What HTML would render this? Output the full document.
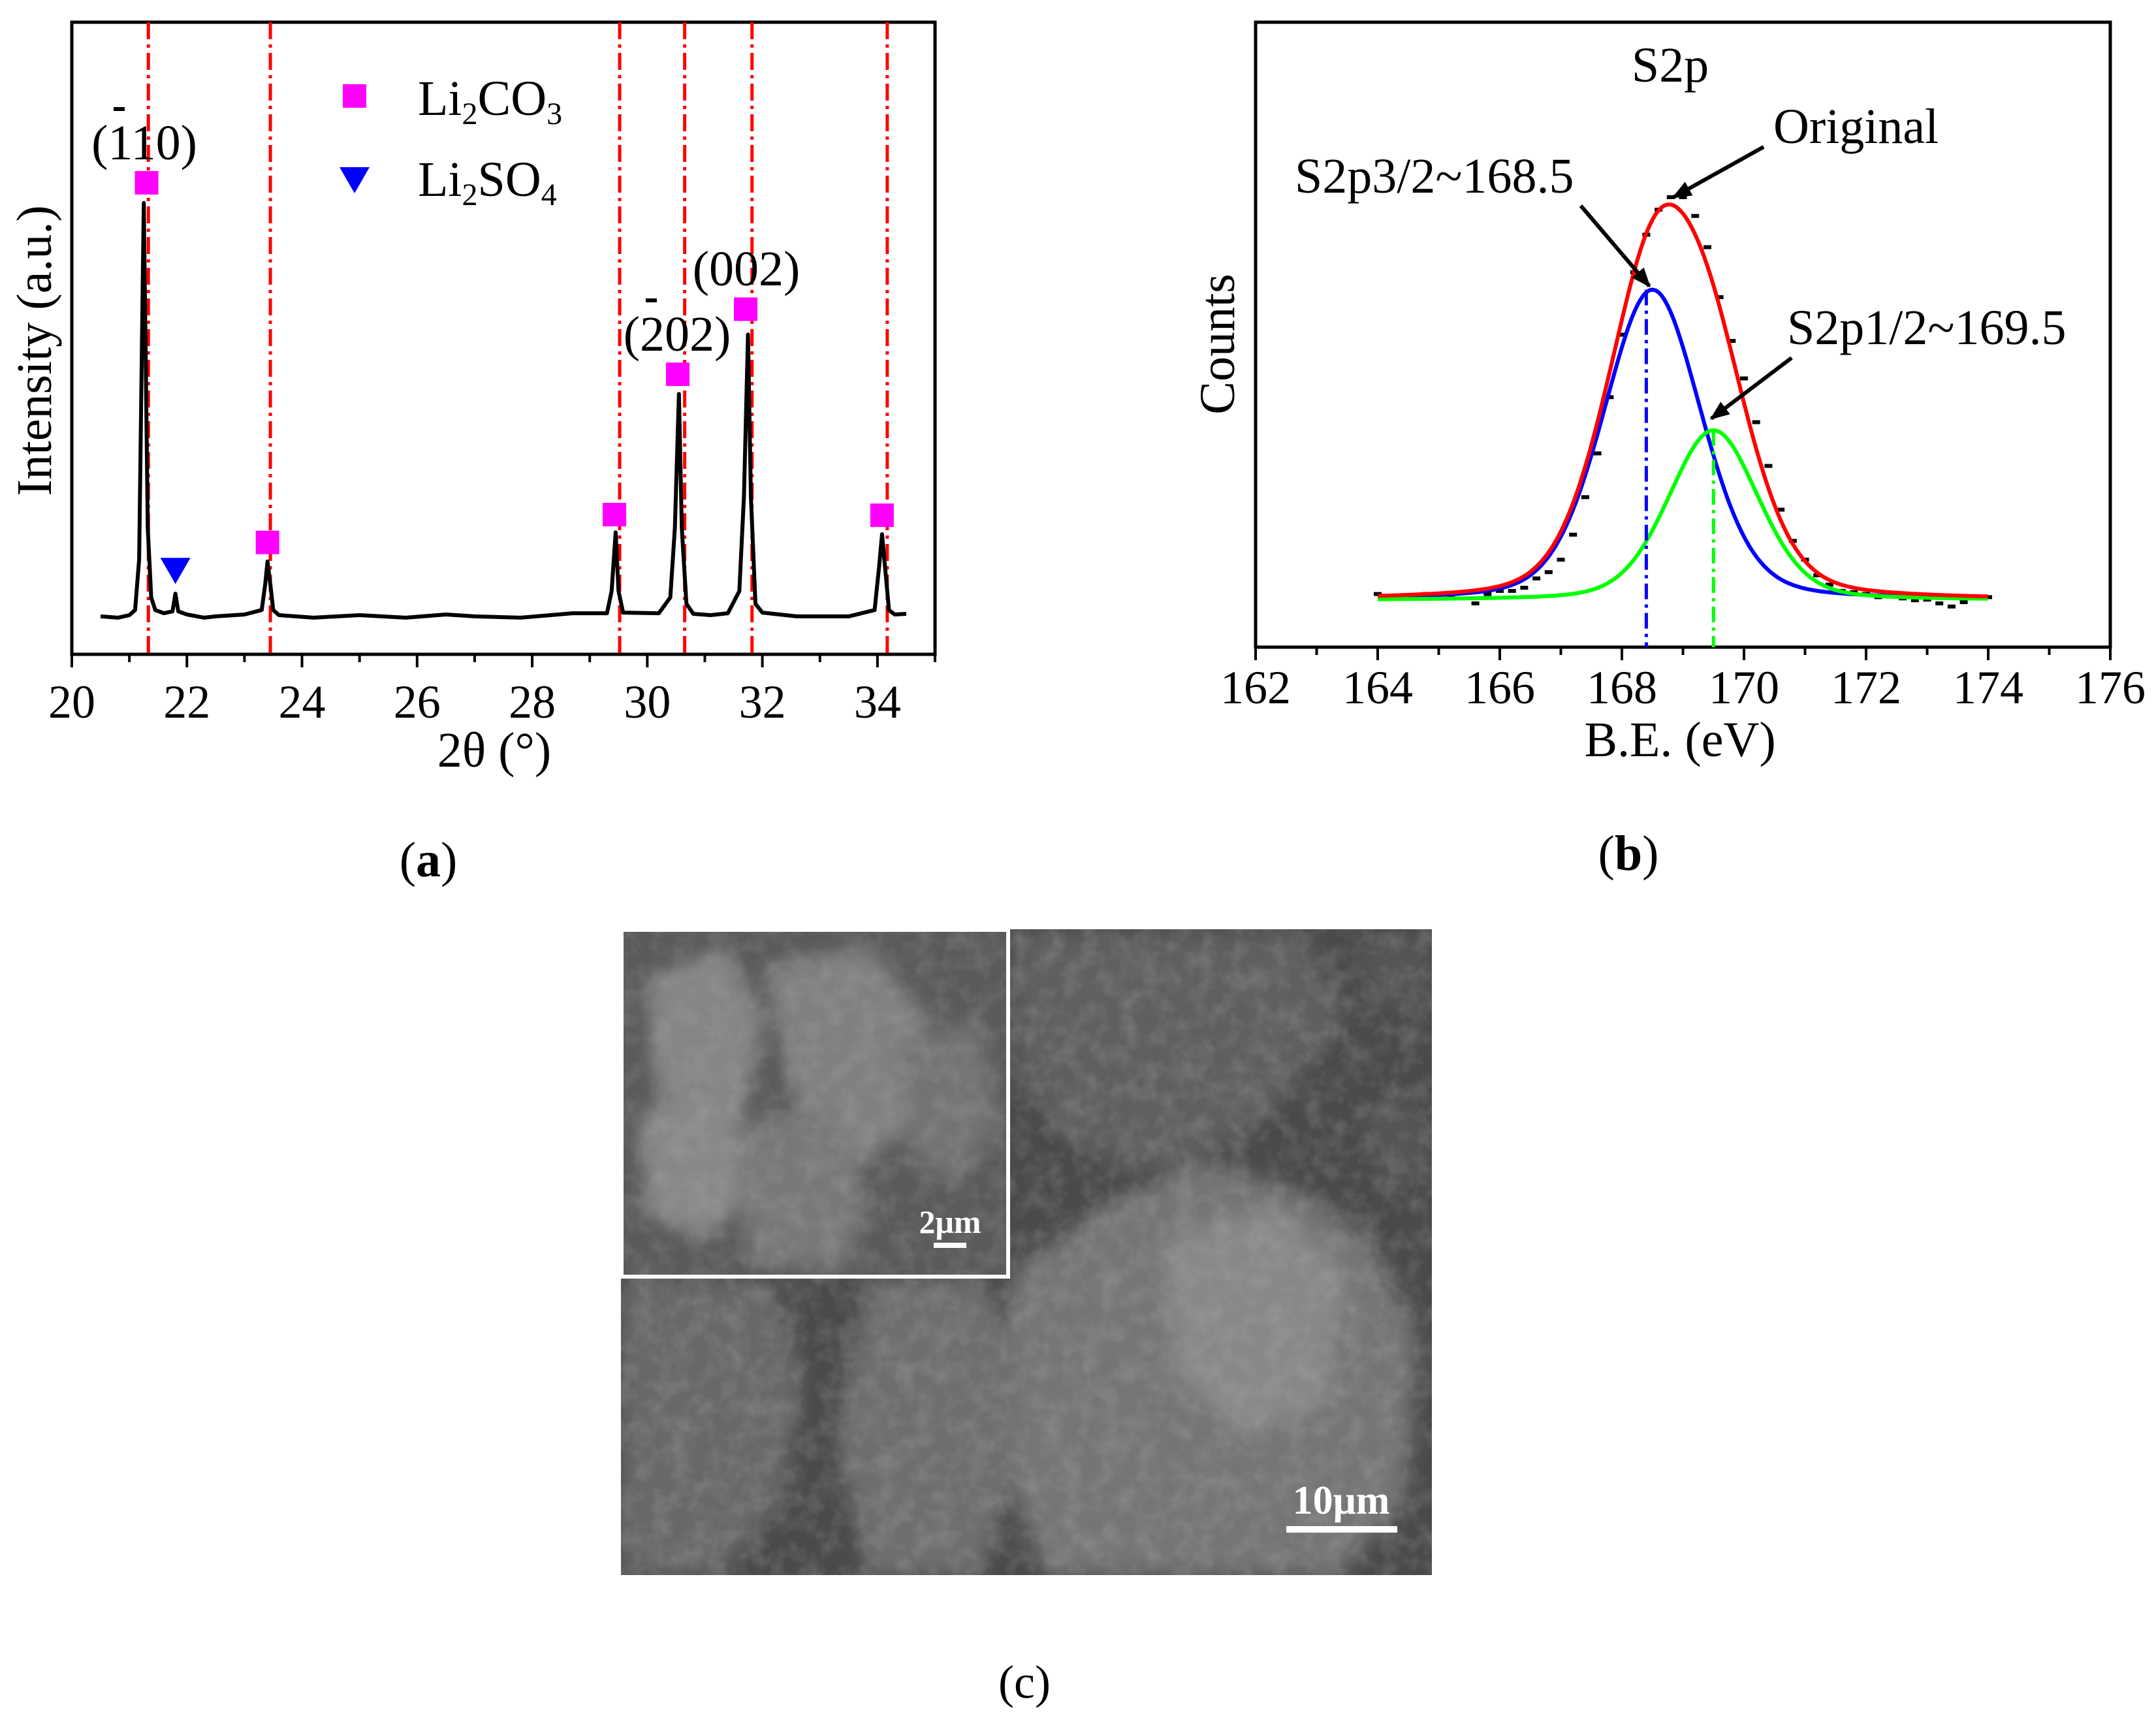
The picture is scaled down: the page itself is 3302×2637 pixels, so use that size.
<!DOCTYPE html>
<html><head><meta charset="utf-8"><style>
html,body{margin:0;padding:0;background:#fff}
svg{display:block}
svg, svg text{font-family:"Liberation Serif","Times New Roman","DejaVu Serif",serif}
text{fill:#000}
</style></head><body>
<svg width="3302" height="2637" viewBox="0 0 3302 2637" xmlns="http://www.w3.org/2000/svg" font-family="Liberation Serif, serif">
<defs>
<filter id="noise" x="0" y="0" width="100%" height="100%">
<feTurbulence type="fractalNoise" baseFrequency="0.035" numOctaves="3" seed="4"/>
<feColorMatrix type="matrix" values="0 0 0 0 0.5  0 0 0 0 0.5  0 0 0 0 0.5  0 0 0 1.2 -0.45"/>
</filter>
<filter id="blur6"><feGaussianBlur stdDeviation="14"/></filter>
<clipPath id="semclip"><rect x="951" y="1423" width="1242" height="989"/></clipPath>
<clipPath id="insetclip"><rect x="955" y="1427" width="586" height="525"/></clipPath>
<marker id="ah" viewBox="0 0 10 10" refX="9" refY="5" markerWidth="5" markerHeight="5" orient="auto"><path d="M0,1 L10,5 L0,9 z" fill="#000"/></marker>
</defs>
<g id="pa"></g>
<g id="pb"></g>

<g id="pc">
 <g clip-path="url(#semclip)">
  <rect x="951" y="1423" width="1242" height="989" fill="#4a4a4a"/>
  <g filter="url(#blur6)">
    <path d="M1550 1430 L2000 1430 L2060 1560 L1950 1700 L1800 1800 L1650 1760 L1560 1650 Z" fill="#5f5f5f"/>
    <path d="M1550 1950 L1700 1840 L1850 1780 L2000 1830 L2100 1900 L2170 2050 L2150 2300 L2050 2412 L1600 2412 L1520 2200 Z" fill="#747474"/>
    <path d="M1330 1960 L1500 1960 L1560 2100 L1540 2300 L1500 2412 L1330 2412 L1280 2200 Z" fill="#6e6e6e"/>
    <path d="M951 1960 L1180 1960 L1230 2100 L1200 2300 L1100 2412 L951 2412 Z" fill="#686868"/>
    <path d="M1780 1900 L1950 1850 L2060 1950 L2030 2150 L1900 2200 L1800 2100 Z" fill="#888"/>
    <path d="M2080 1700 L2180 1690 L2193 1800 L2120 1820 Z" fill="#555"/>
    <path d="M2060 1460 L2193 1430 L2193 1560 L2120 1540 Z" fill="#555"/>
  </g>
  <rect x="951" y="1423" width="1242" height="989" filter="url(#noise)" opacity="0.4"/>
 </g>
  <g>
    <rect x="951" y="1423" width="596" height="535" fill="#fff"/>
    <g clip-path="url(#insetclip)">
    <rect x="955" y="1427" width="586" height="525" fill="#5a5a5a"/>
    <g filter="url(#blur6)" opacity="0.9">
      <path d="M990 1500 L1110 1450 L1170 1560 L1140 1700 L1060 1760 L1000 1650 Z" fill="#8a8a8a"/>
      <path d="M1170 1480 L1330 1450 L1420 1560 L1400 1720 L1300 1800 L1220 1700 Z" fill="#858585"/>
      <path d="M980 1700 L1120 1680 L1150 1830 L1080 1900 L990 1860 Z" fill="#8e8e8e"/>
      <path d="M1120 1720 L1260 1700 L1330 1830 L1300 1940 L1150 1940 Z" fill="#7c7c7c"/>
      <path d="M1380 1600 L1500 1560 L1530 1720 L1460 1820 L1390 1760 Z" fill="#767676"/>
    </g>
    <rect x="955" y="1427" width="586" height="525" filter="url(#noise)" opacity="0.35"/>
    </g>
  </g>
  <text x="1455" y="1888" font-size="50" font-weight="bold" style="fill:#fff" text-anchor="middle">2μm</text>
  <rect x="1430" y="1903" width="50" height="8" fill="#fff"/>
  <text x="2054" y="2318" font-size="62" font-weight="bold" style="fill:#fff" text-anchor="middle">10μm</text>
  <rect x="1970" y="2337" width="170" height="10" fill="#fff"/>
  <text x="1569" y="2600" font-size="72" text-anchor="middle">(c)</text>
</g>
</svg>
<script>
// ---------- Panel (a) XRD data ----------
const xrdX = [20.5,20.8,21.0,21.1,21.17,21.22,21.25,21.28,21.32,21.38,21.45,21.6,21.75,21.8,21.85,22.0,22.3,22.5,23.0,23.3,23.36,23.4,23.45,23.5,23.6,24.2,25,25.8,26.5,27,27.8,28.7,29.3,29.38,29.45,29.5,29.58,30.2,30.4,30.48,30.55,30.6,30.68,30.8,31.1,31.4,31.6,31.68,31.75,31.8,31.88,32.0,32.6,33.5,33.95,34.03,34.08,34.13,34.2,34.3,34.5];
const xrdY = [0.06,0.058,0.062,0.07,0.15,0.5,0.714,0.5,0.2,0.09,0.07,0.065,0.068,0.096,0.068,0.063,0.058,0.06,0.063,0.07,0.11,0.147,0.11,0.07,0.062,0.058,0.062,0.058,0.063,0.06,0.058,0.065,0.065,0.1,0.193,0.1,0.066,0.065,0.09,0.2,0.412,0.2,0.08,0.064,0.062,0.065,0.1,0.25,0.506,0.25,0.08,0.066,0.06,0.06,0.07,0.14,0.19,0.14,0.07,0.063,0.064];
const refLinesX = [21.33,23.45,29.52,30.65,31.82,34.17];
const carbX = [21.3,23.4,29.43,30.53,31.71,34.08];
const carbY = [0.746,0.177,0.221,0.443,0.546,0.220];
const sulfX = [21.8];
const sulfY = [0.133];
const xrdTicks = [20,22,24,26,28,30,32,34];

// ---------- Panel (b) XPS data ----------
const xpsX = [164.0,164.2,164.4,164.6,164.8,165.0,165.2,165.4,165.6,165.8,166.0,166.2,166.4,166.6,166.8,167.0,167.2,167.4,167.6,167.8,168.0,168.2,168.4,168.6,168.8,169.0,169.2,169.4,169.6,169.8,170.0,170.2,170.4,170.6,170.8,171.0,171.2,171.4,171.6,171.8,172.0,172.2,172.4,172.6,172.8,173.0,173.2,173.4,173.6,173.8,174.0];
const xpsY = [0.085,0.08,0.078,0.082,0.085,0.08,0.082,0.088,0.07,0.085,0.09,0.09,0.095,0.11,0.12,0.14,0.18,0.24,0.31,0.40,0.50,0.60,0.66,0.70,0.72,0.72,0.69,0.64,0.56,0.49,0.43,0.36,0.29,0.22,0.17,0.14,0.115,0.10,0.09,0.088,0.085,0.08,0.082,0.078,0.075,0.076,0.07,0.065,0.072,0.078,0.08];
const peakCenters = [168.5,169.5];
const peakAmps = [0.497,0.272];
const peakFwhm = [1.9,1.75];
const xpsBaseline = 0.075;
const xpsTicks = [162,164,166,168,170,172,174,176];

const NS = "http://www.w3.org/2000/svg";
function mk(tag, attrs, parent){const e=document.createElementNS(NS,tag);for(const k in attrs)e.setAttribute(k,attrs[k]);parent.appendChild(e);return e;}

// ===== Panel A =====
(function(){
const g=document.getElementById('pa');
const L=110,R=1432,T=34,B=1002;
const sx=v=>L+(v-20)/(35-20)*(R-L);
const sy=v=>B-v*(B-T);
let e=mk('rect',{x:L,y:T,width:R-L,height:B-T,fill:'none',stroke:'#000','stroke-width':5},g);


for(let v=20;v<=35;v++){
  const t=mk('line',{x1:sx(v),x2:sx(v),y1:B,y2:B+(v%2===0?20:12),stroke:'#000','stroke-width':4},g);
  
  
}
xrdTicks.forEach(v=>{
  const t=mk('text',{x:sx(v),y:1099,'font-size':72,'text-anchor':'middle'},g);t.textContent=v;
  
  
});
refLinesX.forEach(v=>{
  const l=mk('line',{x1:sx(v),x2:sx(v),y1:T,y2:B,stroke:'#ff0000','stroke-width':5,'stroke-dasharray':'26 8 5 8'},g);
  
  
});
let d='';xrdX.forEach((x,i)=>{d+=(i?'L':'M')+sx(x).toFixed(1)+' '+sy(xrdY[i]).toFixed(1);});
e=mk('path',{d:d,fill:'none',stroke:'#000','stroke-width':6,'stroke-linejoin':'round'},g);


carbX.forEach((x,i)=>{
  const s=mk('rect',{x:sx(x)-18,y:sy(carbY[i])-18,width:36,height:36,fill:'#ff00ff'},g);
  
  
});
sulfX.forEach((x,i)=>{
  const cx=sx(x),cy=sy(sulfY[i]);
  const p=mk('path',{d:`M${cx-23} ${cy-19} L${cx+23} ${cy-19} L${cx} ${cy+21} Z`,fill:'#0000ff'},g);
  
  
});
const legend=mk('g',{},g);


e=mk('rect',{x:525,y:129,width:36,height:36,fill:'#ff00ff'},legend);


e=mk('text',{x:640,y:176,'font-size':76},legend);
e.innerHTML='Li<tspan font-size="48" dy="14">2</tspan><tspan dy="-14">CO</tspan><tspan font-size="48" dy="14">3</tspan>';


e=mk('path',{d:'M520 256 L566 256 L543 296 Z',fill:'#0000ff'},legend);


e=mk('text',{x:640,y:300,'font-size':76},legend);
e.innerHTML='Li<tspan font-size="48" dy="14">2</tspan><tspan dy="-14">SO</tspan><tspan font-size="48" dy="14">4</tspan>';


const labs=[['(110)',221,244,'peak-label-110',182],['(202)',1037,537,'peak-label-202',997],['(002)',1143,437,'peak-label-002',null]];
labs.forEach(a=>{
  const t=mk('text',{x:a[1],y:a[2],'font-size':76,'text-anchor':'middle'},g);t.textContent=a[0];
  
  
  if(a[4]){const b=mk('rect',{x:a[4]-8,y:a[2]-80,width:17,height:6,fill:'#000'},g);
    
    }
});
e=mk('text',{x:757,y:1174,'font-size':76,'text-anchor':'middle'},g);e.textContent='2θ (°)';


e=mk('text',{x:0,y:0,'font-size':76,'text-anchor':'middle',transform:'translate(78 537) rotate(-90)'},g);e.textContent='Intensity (a.u.)';


e=mk('text',{x:656,y:1342,'font-size':76,'text-anchor':'middle'},g);e.innerHTML='(<tspan font-weight="bold">a</tspan>)';


})();

// ===== Panel B =====
(function(){
const g=document.getElementById('pb');
const L=1923,R=3232,T=34,B=991;
const sx=v=>L+(v-162)/(176-162)*(R-L);
const sy=v=>B-v*(B-T);
const pv=(x,c,a,w)=>{const z=(x-c)/(w/2);return a*(0.75*Math.exp(-Math.LN2*z*z)+0.25/(1+z*z));};
let e=mk('rect',{x:L,y:T,width:R-L,height:B-T,fill:'none',stroke:'#000','stroke-width':5},g);


for(let v=162;v<=176;v++){
  const t=mk('line',{x1:sx(v),x2:sx(v),y1:B,y2:B+(v%2===0?20:12),stroke:'#000','stroke-width':4},g);
  
  
}
xpsTicks.forEach(v=>{
  const t=mk('text',{x:sx(v),y:1077,'font-size':72,'text-anchor':'middle'},g);t.textContent=v;
  
  
});
xpsX.forEach((x,i)=>{
  const c=mk('rect',{x:sx(x)-6,y:sy(xpsY[i])-3,width:12,height:6,fill:'#000'},g);
  
  
});
const curve=(f,col,name)=>{let d='';for(let i=0;i<=200;i++){const x=164+i*0.05;d+=(i?'L':'M')+sx(x).toFixed(1)+' '+sy(f(x)).toFixed(1);}
  const p=mk('path',{d:d,fill:'none',stroke:col,'stroke-width':6},g);
  
  };
curve(x=>xpsBaseline+pv(x,peakCenters[0],peakAmps[0],peakFwhm[0]),'#0000ff','s2p32-fit');
curve(x=>xpsBaseline+pv(x,peakCenters[1],peakAmps[1],peakFwhm[1]),'#00ff00','s2p12-fit');
curve(x=>xpsBaseline+pv(x,peakCenters[0],peakAmps[0],peakFwhm[0])+pv(x,peakCenters[1],peakAmps[1],peakFwhm[1]),'#ff0000','envelope-fit');
e=mk('line',{x1:sx(peakCenters[0]-0.1),x2:sx(peakCenters[0]-0.1),y1:sy(xpsBaseline+peakAmps[0]),y2:B,stroke:'#0000ff','stroke-width':5,'stroke-dasharray':'24 8 5 8'},g);


e=mk('line',{x1:sx(peakCenters[1]),x2:sx(peakCenters[1]),y1:sy(xpsBaseline+peakAmps[1]),y2:B,stroke:'#00ff00','stroke-width':5,'stroke-dasharray':'24 8 5 8'},g);


const arrows=[[2701,225,2563,302,'original-arrow'],[2421,315,2526,438,'s2p32-arrow'],[2744,548,2621,641,'s2p12-arrow']];
arrows.forEach(a=>{const l=mk('line',{x1:a[0],y1:a[1],x2:a[2],y2:a[3],stroke:'#000','stroke-width':6,'marker-end':'url(#ah)'},g);
  
  });
const txt=[['S2p',2558,125,'middle','spectrum-title'],['Original',2716,219,'start','original-label'],['S2p3/2~168.5',1983,295,'start','s2p32-label'],['S2p1/2~169.5',2737,527,'start','s2p12-label'],['B.E. (eV)',2573,1158,'middle','x-axis-title']];
txt.forEach(a=>{const t=mk('text',{x:a[1],y:a[2],'font-size':76,'text-anchor':a[3]},g);t.textContent=a[0];
  
  });
e=mk('text',{x:0,y:0,'font-size':76,'text-anchor':'middle',transform:'translate(1890 527) rotate(-90)'},g);e.textContent='Counts';


e=mk('text',{x:2494,y:1332,'font-size':76,'text-anchor':'middle'},g);e.innerHTML='(<tspan font-weight="bold">b</tspan>)';


})();
</script>
</body></html>
